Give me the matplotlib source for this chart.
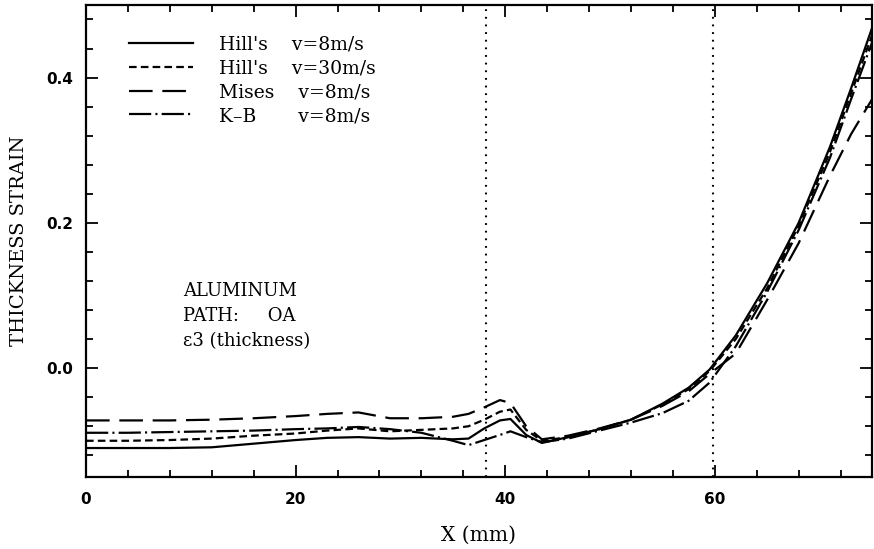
import matplotlib
matplotlib.use("Agg")
import matplotlib.pyplot as plt
from matplotlib.ticker import MultipleLocator, FixedLocator, FixedFormatter

plt.rcParams['lines.scale_dashes'] = False

x_mm = [0, 4, 8, 12, 16, 20, 23, 26, 29, 32, 35, 36.5, 38, 39.5, 40.5, 42, 43.5,
        46, 49, 52, 55, 57.5, 59.5, 62, 65, 68, 71, 73, 75]

hill_8 = [-0.110, -0.110, -0.110, -0.109, -0.104, -0.099, -0.096, -0.095, -0.097,
          -0.096, -0.098, -0.097, -0.083, -0.072, -0.070, -0.092, -0.103,
          -0.095, -0.084, -0.071, -0.049, -0.027, -0.002, 0.045, 0.117, 0.200,
          0.305, 0.385, 0.468]
hill_30 = [-0.100, -0.100, -0.099, -0.097, -0.093, -0.090, -0.086, -0.083, -0.087,
           -0.085, -0.083, -0.080, -0.071, -0.060, -0.057, -0.085, -0.100,
           -0.095, -0.084, -0.071, -0.050, -0.029, -0.004, 0.040, 0.110, 0.196,
           0.298, 0.378, 0.458]
mises_8 = [-0.072, -0.072, -0.072, -0.071, -0.069, -0.066, -0.063, -0.061, -0.069,
           -0.069, -0.067, -0.063, -0.054, -0.044, -0.048, -0.080, -0.098,
           -0.093, -0.083, -0.071, -0.052, -0.032, -0.008, 0.020, 0.094, 0.172,
           0.265, 0.322, 0.370]
kb_8 = [-0.089, -0.089, -0.088, -0.087, -0.086, -0.084, -0.083, -0.081, -0.084,
        -0.089, -0.100, -0.106, -0.099, -0.092, -0.087, -0.095, -0.102,
        -0.097, -0.086, -0.075, -0.062, -0.045, -0.020, 0.030, 0.105, 0.190,
        0.290, 0.370, 0.448]

series_labels = ["Hill's    v=8m/s", "Hill's    v=30m/s", "Mises    v=8m/s", "K\u2013B       v=8m/s"]
vlines_x = [38.2, 59.8]
xtick_vals = [0, 20, 40, 60]
xtick_labels = ["0", "20", "40", "60"]
ytick_vals = [0.0, 0.2, 0.4]
ytick_labels = ["0.0", "0.2", "0.4"]
note_lines = ["ALUMINUM", "PATH:     OA", "\u03b53 (thickness)"]

fig = plt.figure(figsize=(8.74, 5.49), dpi=100)
ax = fig.add_axes([0.0984, 0.131, 0.8993, 0.860])

lw = 1.6
ax.plot(x_mm, hill_8, color='black', lw=lw, linestyle='-', label=series_labels[0])
ax.plot(x_mm, hill_30, color='black', lw=lw, linestyle=(0, (5.5, 3.0)), label=series_labels[1])
ax.plot(x_mm, mises_8, color='black', lw=lw, linestyle=(0, (17, 7)), label=series_labels[2])
ax.plot(x_mm, kb_8, color='black', lw=lw, linestyle=(0, (16, 3, 1.5, 3)), label=series_labels[3])

for xv in vlines_x:
    ax.axvline(xv, color='black', lw=1.5, linestyle=(0, (1.3, 4.2)))

ax.set_xlim(0, 75)
ax.set_ylim(-0.15, 0.5)

ax.xaxis.set_major_locator(FixedLocator(xtick_vals))
ax.xaxis.set_major_formatter(FixedFormatter(xtick_labels))
ax.xaxis.set_minor_locator(MultipleLocator(4))
ax.yaxis.set_major_locator(FixedLocator(ytick_vals))
ax.yaxis.set_major_formatter(FixedFormatter(ytick_labels))
ax.yaxis.set_minor_locator(MultipleLocator(0.04))

ax.tick_params(which='both', direction='in', top=True, right=True, width=1.3)
ax.tick_params(which='major', length=8.5)
ax.tick_params(which='minor', length=5)
ax.tick_params(axis='x', pad=11)
ax.tick_params(axis='y', pad=9)
for lab in ax.get_xticklabels() + ax.get_yticklabels():
    lab.set_fontfamily('DejaVu Sans')
    lab.set_fontweight('bold')
    lab.set_fontsize(11)

for sp in ax.spines.values():
    sp.set_linewidth(1.6)

ax.set_xlabel("X (mm)", fontfamily='DejaVu Serif', fontsize=14.5, labelpad=13)
ax.set_ylabel("THICKNESS STRAIN", fontfamily='DejaVu Serif', fontsize=14, labelpad=13)

leg = ax.legend(loc='upper left', bbox_to_anchor=(0.045, 0.951), frameon=False,
                borderaxespad=0, borderpad=0.4,
                prop={'family': 'DejaVu Serif', 'size': 13.5}, handlelength=3.4,
                handletextpad=1.4, labelspacing=0.31)

ax.text(0.123, 0.413, "\n".join(note_lines), transform=ax.transAxes,
        fontfamily='DejaVu Serif', fontsize=13, va='top', ha='left', linespacing=1.5)

fig.savefig("out.png", dpi=100)
